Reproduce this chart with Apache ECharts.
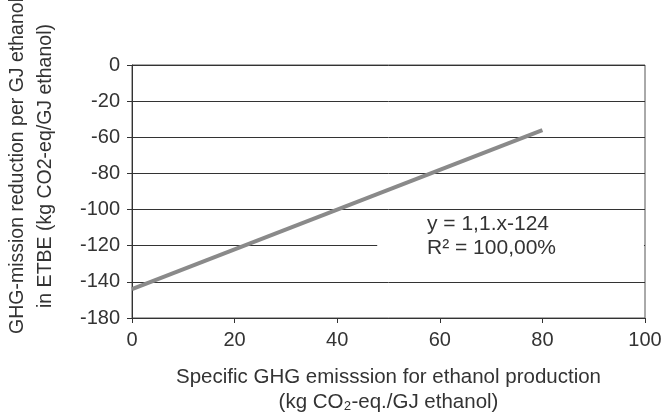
<!DOCTYPE html>
<html>
<head>
<meta charset="utf-8">
<script src="https://cdn.jsdelivr.net/npm/echarts@6/dist/echarts.min.js"></script>
<style>
html,body{margin:0;padding:0;background:#fff;}
#chart{width:667px;height:420px;}
</style>
</head>
<body>
<div id="chart"></div>
<script>
// labels as printed on the original (spacing is 20 per step)
const yLabels=['0','-20','-60','-80','-100','-120','-140','-180'];
const xTicks=[0,20,40,60,80,100];
const lineX=[0,80];
const lineY=[-124,-36];
const eqText=['y = 1,1.x-124','R² = 100,00%'];

const chart=echarts.init(document.getElementById('chart'));
const font='"Liberation Sans", Arial, sans-serif';
const ink='#333';

let data=[];
for(let i=0;i<lineX.length;i++){
  data.push([lineX[i],lineY[i]]);
}

chart.setOption({
  animation:false,
  textStyle:{fontFamily:font},
  grid:{left:132,right:22,top:65,bottom:100,show:true,borderColor:'#555',borderWidth:1,backgroundColor:'transparent'},
  xAxis:{
    type:'value',min:0,max:100,interval:20,
    axisLine:{show:true,onZero:false,lineStyle:{color:ink,width:1}},
    axisTick:{show:true,length:5,lineStyle:{color:ink}},
    axisLabel:{color:ink,fontSize:20,margin:12,formatter:v=>xTicks.indexOf(v)>=0?String(v):''},
    splitLine:{show:false},
    name:'Specific GHG emisssion for ethanol production\n(kg CO₂-eq./GJ ethanol)',
    nameLocation:'middle',nameGap:47,
    nameTextStyle:{color:ink,fontSize:20.5,lineHeight:25,fontFamily:font,verticalAlign:'top'}
  },
  yAxis:{
    type:'value',min:-140,max:0,interval:20,
    axisLine:{show:true,onZero:false,lineStyle:{color:ink,width:1}},
    axisTick:{show:true,length:5,lineStyle:{color:ink}},
    axisLabel:{color:ink,fontSize:20,margin:12,formatter:v=>yLabels[Math.round(-v/20)]},
    splitLine:{show:true,lineStyle:{color:ink,width:1}}
  },
  graphic:[
    {
      type:'text',x:32,y:166,rotation:Math.PI/2,
      style:{
        text:'GHG-mission reduction per GJ ethanol\nin ETBE (kg CO2-eq/GJ ethanol)',
        fill:ink,font:'19.5px '+font,lineHeight:28,
        align:'center',verticalAlign:'middle'
      }
    },
    {
      type:'text',left:427,top:212,z:10,
      style:{
        text:eqText.join('\n'),
        fill:ink,font:'21px '+font,lineHeight:24
      }
    }
  ],
  series:[
    {
      type:'line',
      data:data,
      symbol:'none',
      lineStyle:{color:'#8a8a8a',width:4},
      z:3,
      markArea:{
        silent:true,
        itemStyle:{color:'#fff'},
        data:[[{xAxis:47.8,yAxis:-110},{xAxis:99.8,yAxis:-90}]]
      }
    }
  ]
});
</script>
</body>
</html>
